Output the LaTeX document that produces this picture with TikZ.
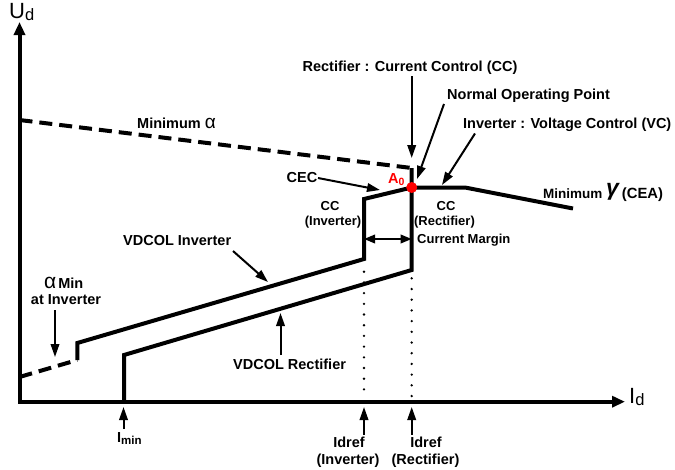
\documentclass[tikz,border=0pt]{standalone}
\usepackage{fontspec}
\setmainfont{Liberation Sans}
\usetikzlibrary{arrows.meta}

\tikzset{
  curve/.style={line width=4pt, line join=miter},
  dashcurve/.style={curve, dash pattern=on 13pt off 7pt},
  dotline/.style={line width=2.6pt, line cap=round, dash pattern=on 0pt off 10.7pt},
  pointer/.style={line width=2pt, -{Triangle[length=13pt,width=8.5pt]}},
  twoway/.style={line width=2pt, {Triangle[length=11pt,width=8.5pt]}-{Triangle[length=11pt,width=8.5pt]}},
  axisline/.style={line width=4pt, line join=miter, {Triangle[length=13pt,width=11pt]}-{Triangle[length=13pt,width=11pt]}},
  lbl/.style={inner sep=0pt, font=\fontsize{14.5}{16}\selectfont\bfseries},
  small/.style={inner sep=0pt, font=\fontsize{13}{15}\selectfont\bfseries},
  axlbl/.style={inner sep=0pt, font=\fontsize{22}{22}\selectfont},
  opdot/.style={circle, fill=red, inner sep=0pt, minimum size=11pt}
}

\begin{document}
\begin{tikzpicture}[x=1pt,y=-1pt]
\useasboundingbox (0,0) rectangle (675,469);

% axes
\coordinate (ytip) at (19.5,22);
\coordinate (orig) at (19.5,401.7);
\coordinate (xtip) at (625,401.7);
\draw[axisline] (ytip) -- (orig) -- (xtip);
\node[axlbl, anchor=base west] (ud) at (9,18) {U{\fontsize{16.5}{16.5}\selectfont\raisebox{-2pt}{d}}};
\node[axlbl, anchor=base west] (id) at (629,403) {I{\fontsize{16.5}{16.5}\selectfont\raisebox{-2pt}{d}}};

% characteristic corner points
\coordinate (alA) at (19.5,120);
\coordinate (alB) at (411.7,168);
\coordinate (vA) at (19.5,377);
\coordinate (vB) at (77.3,360);
\coordinate (vC) at (77.3,343);
\coordinate (vD) at (364,259);
\coordinate (vE) at (364,199);
\coordinate (rA) at (124,401.7);
\coordinate (rB) at (124,355);
\coordinate (rC) at (411.7,270);
\coordinate (gA) at (465,187.5);
\coordinate (gB) at (573,208.5);

% minimum alpha limit
\draw[dashcurve] (alA) -- (alB);
% inverter characteristic
\draw[dashcurve] (vA) -- (vB);
\draw[curve] (vB) -- (vC) -- (vD) -- (vE) -- (411.7,187.5) -- (gA) -- (gB);
% rectifier characteristic
\draw[curve] (rA) -- (rB) -- (rC) -- (alB);

% reference currents
\draw[dotline] (364,271.7) -- (364,389.4);
\draw[dotline] (411.7,278.3) -- (411.7,396);

% operating point
\node[opdot] (a0pt) at (411.7,187.5) {};
\node[inner sep=0pt, text=red, font=\fontsize{14.5}{16}\selectfont\bfseries, anchor=base west] (a0) at (388,183.5) {A{\fontsize{10.5}{10.5}\selectfont\raisebox{-1.5pt}{0}}};

% top labels and pointers
\node[lbl, anchor=base] (rcc) at (410,71) {Rectifier : Current Control (CC)};
\coordinate (rccS) at (411.7,76);
\coordinate (rccT) at (411.7,158);
\draw[pointer] (rccS) -- (rccT);

\node[lbl, anchor=base west] (nop) at (447,99) {Normal Operating Point};
\coordinate (nopS) at (444,104);
\coordinate (nopT) at (417,179);
\draw[pointer] (nopS) -- (nopT);

\node[lbl, anchor=base west] (ivc) at (463,128) {Inverter : Voltage Control (VC)};
\coordinate (ivcS) at (475,133.5);
\coordinate (ivcT) at (442,185);
\draw[pointer] (ivcS) -- (ivcT);

\node[anchor=base west, inner sep=0pt] (mgam) at (543,198)
  {\fontsize{13.5}{15}\selectfont\bfseries Minimum\ {\fontsize{23}{23}\selectfont\itshape\raisebox{2.5pt}{γ}}\hspace{3pt}{\fontsize{14.8}{16}\selectfont(CEA)}};

\node[lbl, anchor=base] (cec) at (302,182) {CEC};
\coordinate (cecS) at (318,178);
\coordinate (cecT) at (380,190);
\draw[pointer] (cecS) -- (cecT);

% current control labels
\node[small, anchor=base] (ccinv) at (330,210) {CC};
\node[small, anchor=base] (ccinvb) at (333,225.5) {(Inverter)};
\node[small, anchor=base] (ccrec) at (446,210) {CC};
\node[small, anchor=base] (ccrecb) at (444.5,225.5) {(Rectifier)};

% current margin
\coordinate (cmL) at (364,239);
\coordinate (cmR) at (411.7,239);
\draw[twoway] (cmL) -- (cmR);
\node[small, anchor=base west] (cm) at (417,243.5) {Current Margin};

% minimum alpha
\node[lbl, anchor=base west] (mal) at (137,128) {Minimum\ {\fontsize{19}{19}\selectfont\mdseries α}};

% VDCOL labels
\node[lbl, anchor=base west] (vdi) at (123,245) {VDCOL Inverter};
\coordinate (vdiS) at (233,251);
\coordinate (vdiT) at (268,282);
\draw[pointer] (vdiS) -- (vdiT);

\node[lbl, anchor=base west] (vdr) at (233,369.5) {VDCOL Rectifier};
\coordinate (vdrS) at (280.5,355);
\coordinate (vdrT) at (280.5,313);
\draw[pointer] (vdrS) -- (vdrT);

% alpha min at inverter
\node[anchor=base west, inner sep=0pt] (amin) at (44,288)
  {{\fontsize{21}{21}\selectfont α}\hspace{2pt}{\fontsize{14.5}{16}\selectfont\bfseries Min}};
\node[lbl, anchor=base] (atinv) at (66,304) {at Inverter};
\coordinate (aminS) at (55,310);
\coordinate (aminT) at (55,357);
\draw[pointer] (aminS) -- (aminT);

% current axis markers
\node[lbl, anchor=base west] (imin) at (117,442) {I{\fontsize{11.5}{11.5}\selectfont\raisebox{-2pt}{min}}};
\coordinate (iminS) at (123.5,429);
\coordinate (iminT) at (123.5,407);
\draw[pointer] (iminS) -- (iminT);

\node[lbl, anchor=base] (idri) at (349,447.5) {Idref};
\node[lbl, anchor=base] (idrib) at (348,464) {(Inverter)};
\coordinate (idriS) at (364,435);
\coordinate (idriT) at (364,407);
\draw[pointer] (idriS) -- (idriT);

\node[lbl, anchor=base] (idrr) at (426,447.5) {Idref};
\node[lbl, anchor=base] (idrrb) at (425.5,464) {(Rectifier)};
\coordinate (idrrS) at (411.7,435);
\coordinate (idrrT) at (411.7,407);
\draw[pointer] (idrrS) -- (idrrT);
\end{tikzpicture}
\end{document}
